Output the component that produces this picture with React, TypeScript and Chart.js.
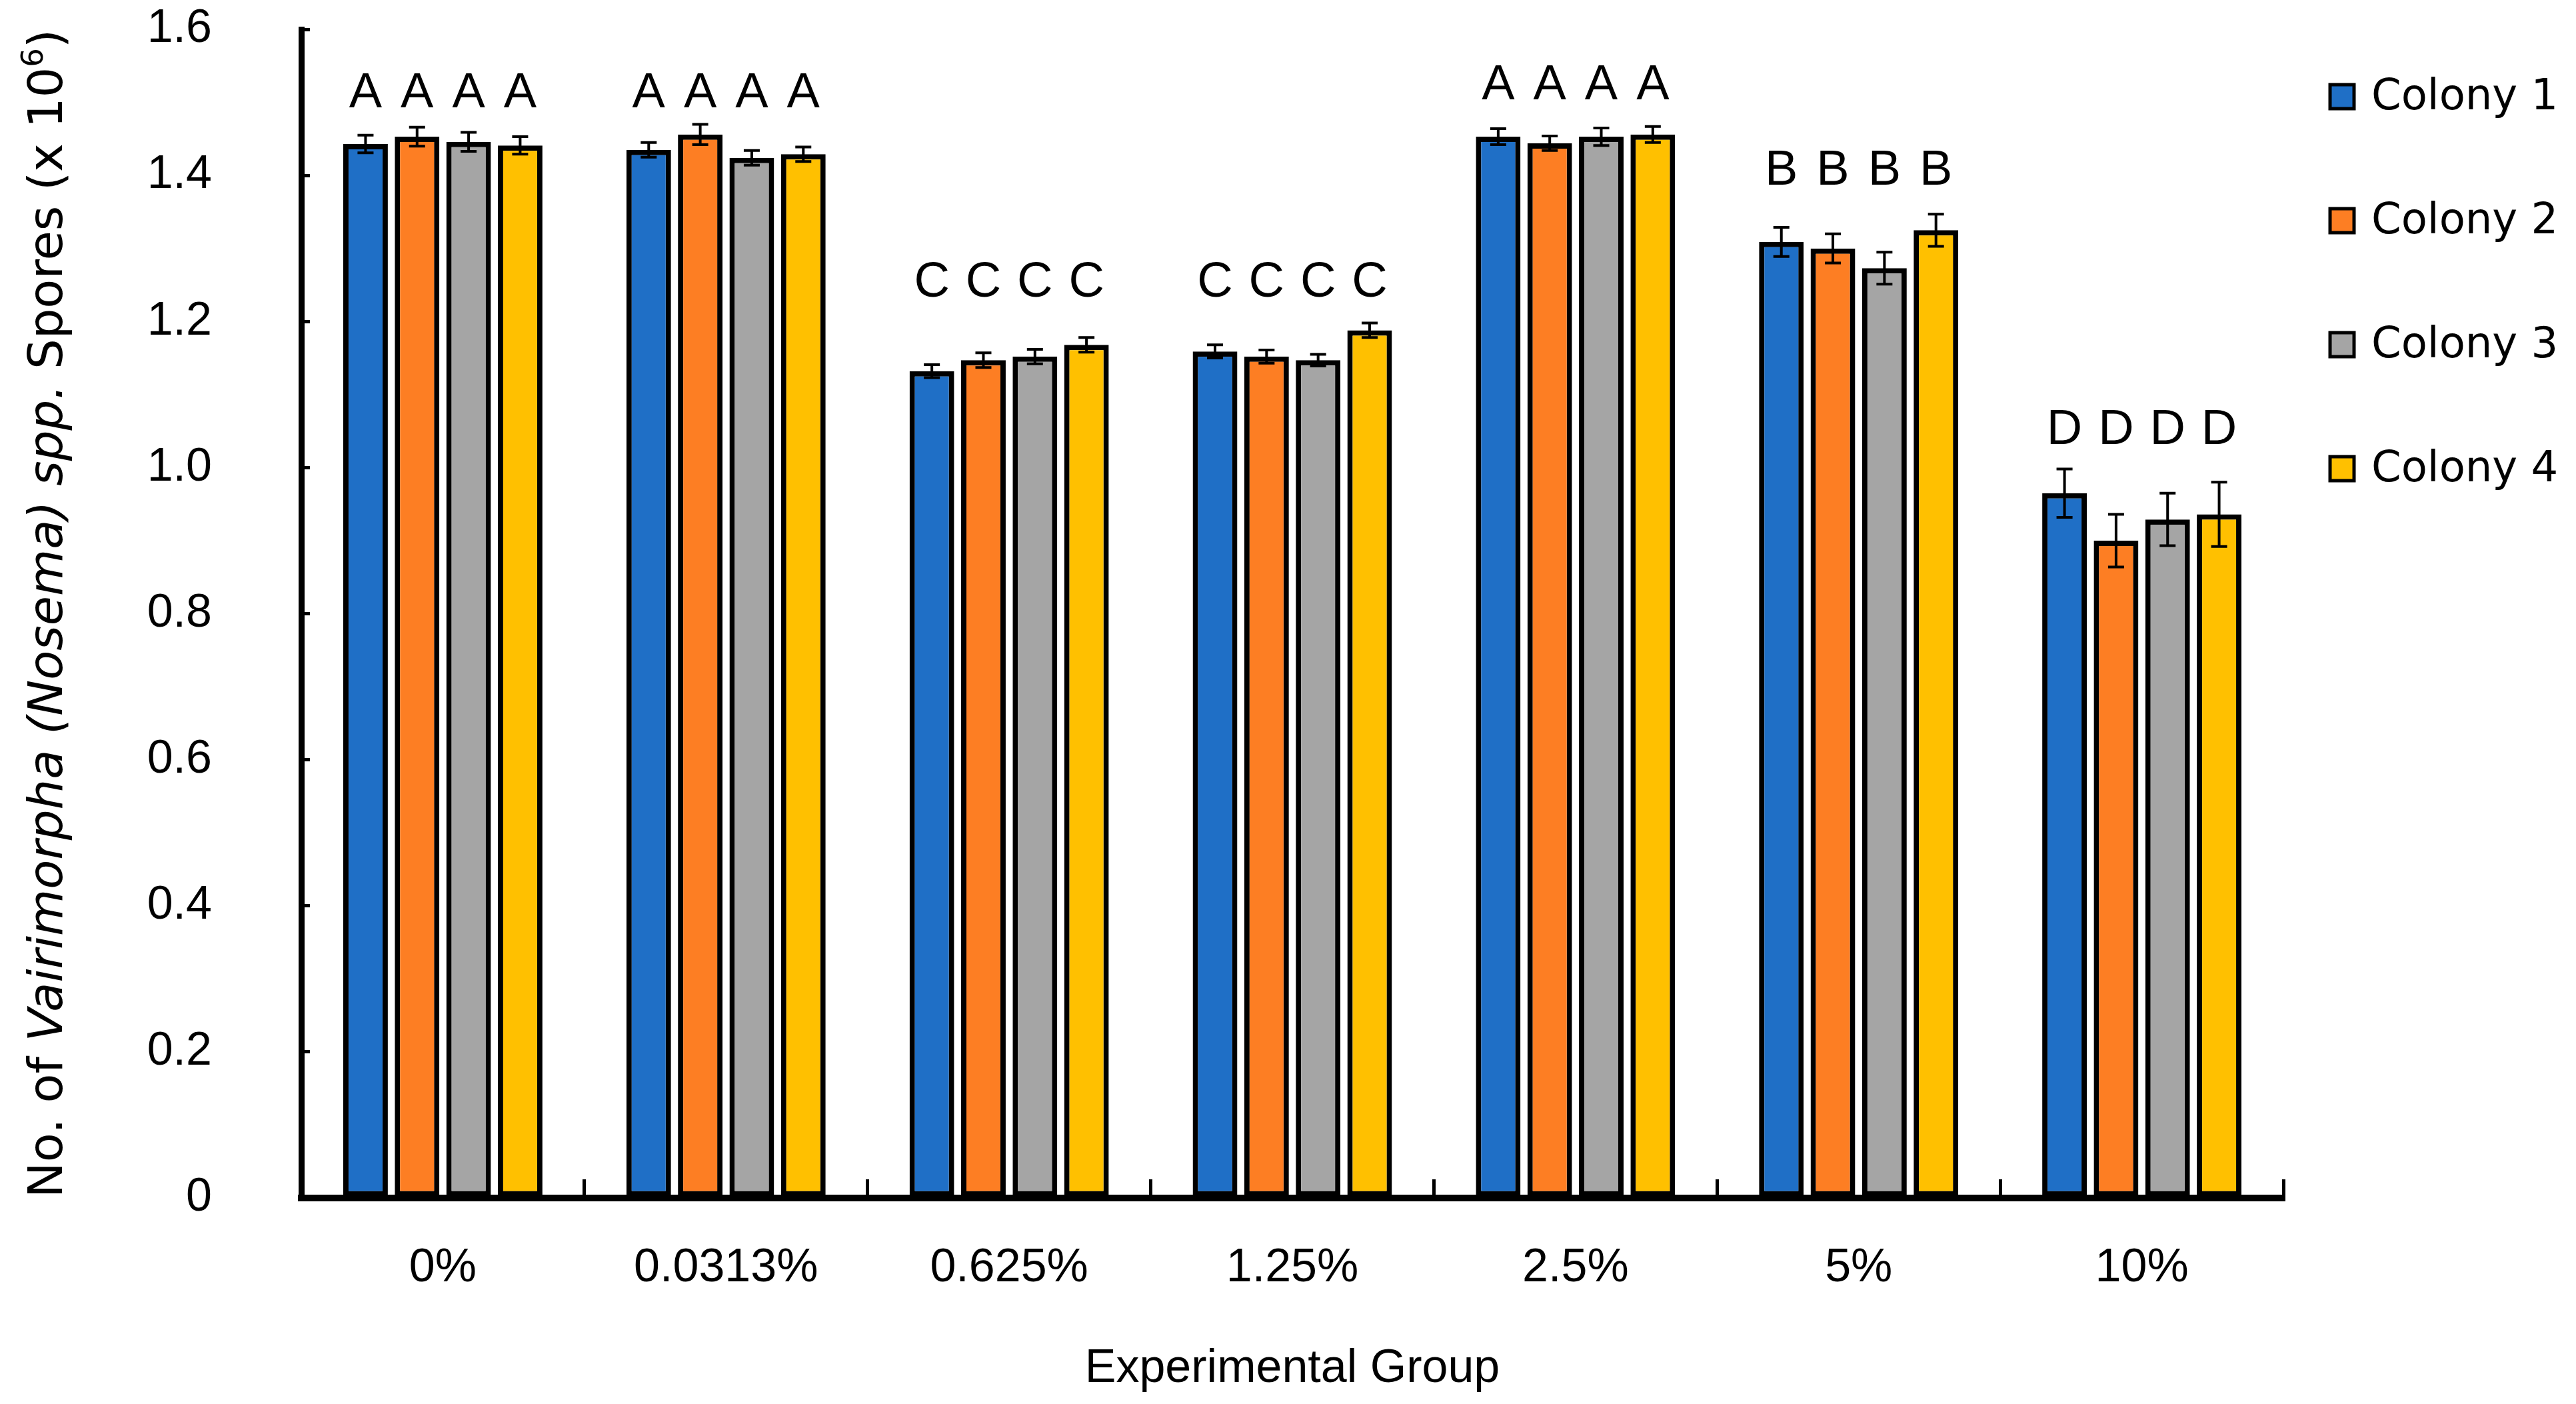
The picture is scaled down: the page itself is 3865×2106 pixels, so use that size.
import React, { useEffect, useRef } from 'react';
import { Chart, registerables } from 'chart.js';

Chart.register(...registerables);

// ---------- data ----------
const groups = ['0%', '0.0313%', '0.625%', '1.25%', '2.5%', '5%', '10%'];
const seriesNames = ['Colony 1', 'Colony 2', 'Colony 3', 'Colony 4'];
const seriesColors = ['#1f6fc6', '#fd7e23', '#a5a5a5', '#ffc000'];

const colony1 = [1.443, 1.435, 1.132, 1.159, 1.453, 1.309, 0.965];
const colony2 = [1.453, 1.456, 1.147, 1.152, 1.444, 1.300, 0.900];
const colony3 = [1.446, 1.424, 1.152, 1.147, 1.453, 1.273, 0.929];
const colony4 = [1.441, 1.429, 1.168, 1.188, 1.456, 1.325, 0.936];

const err1 = [0.012, 0.010, 0.009, 0.009, 0.011, 0.020, 0.033];
const err2 = [0.013, 0.014, 0.010, 0.009, 0.010, 0.020, 0.036];
const err3 = [0.013, 0.010, 0.010, 0.008, 0.012, 0.022, 0.036];
const err4 = [0.012, 0.010, 0.010, 0.010, 0.011, 0.022, 0.044];

const letters = ['A', 'A', 'C', 'C', 'A', 'B', 'D'];
const letterLevels = [1.512, 1.512, 1.253, 1.253, 1.523, 1.406, 1.051];

const yTickLabels = ['0', '0.2', '0.4', '0.6', '0.8', '1.0', '1.2', '1.4', '1.6'];

const xTitle = 'Experimental Group';
const yTitleParts = [
  { text: 'No. of ', italic: false, sup: false },
  { text: 'Vairimorpha', italic: true, sup: false },
  { text: ' ', italic: false, sup: false },
  { text: '(Nosema)', italic: true, sup: false },
  { text: ' ', italic: false, sup: false },
  { text: 'spp.', italic: true, sup: false },
  { text: ' Spores (x 10', italic: false, sup: false },
  { text: '6', italic: false, sup: true },
  { text: ')', italic: false, sup: false },
];

const seriesValues = [colony1, colony2, colony3, colony4];
const seriesErrors = [err1, err2, err3, err4];

const TICK_FONT = '"Liberation Sans", Arial, sans-serif';
const WIDE_FONT = '"DejaVu Sans", Verdana, sans-serif';

// ---------- plugins ----------
const errorBarPlugin = {
  id: 'errorBars',
  afterDatasetsDraw(chart: any) {
    const ctx = chart.ctx;
    const y = chart.scales.y;
    ctx.save();
    ctx.strokeStyle = '#000';
    ctx.lineWidth = 4;
    seriesValues.forEach((vals, j) => {
      const meta = chart.getDatasetMeta(j);
      vals.forEach((v, i) => {
        const bar = meta.data[i];
        const e = seriesErrors[j][i];
        const x = bar.x;
        const yt = y.getPixelForValue(v + e);
        const yb = y.getPixelForValue(v - e);
        const cap = 12;
        ctx.beginPath();
        ctx.moveTo(x, yt);
        ctx.lineTo(x, yb);
        ctx.moveTo(x - cap, yt);
        ctx.lineTo(x + cap, yt);
        ctx.moveTo(x - cap, yb);
        ctx.lineTo(x + cap, yb);
        ctx.stroke();
      });
    });
    ctx.restore();
  },
};

const letterPlugin = {
  id: 'groupLetters',
  afterDatasetsDraw(chart: any) {
    const ctx = chart.ctx;
    const y = chart.scales.y;
    ctx.save();
    ctx.fillStyle = '#000';
    ctx.font = `74px ${TICK_FONT}`;
    ctx.textAlign = 'center';
    ctx.textBaseline = 'middle';
    letters.forEach((letter, i) => {
      const yy = y.getPixelForValue(letterLevels[i]);
      seriesValues.forEach((_, j) => {
        const bar = chart.getDatasetMeta(j).data[i];
        ctx.fillText(letter, bar.x, yy);
      });
    });
    ctx.restore();
  },
};

const yTitlePlugin = {
  id: 'yTitleRich',
  afterDraw(chart: any) {
    const ctx = chart.ctx;
    const area = chart.chartArea;
    const size = 72;
    const fontFor = (p: any) =>
      `${p.italic ? 'italic ' : ''}${p.sup ? Math.round(size * 0.62) : size}px ${WIDE_FONT}`;
    ctx.save();
    let total = 0;
    yTitleParts.forEach((p) => {
      ctx.font = fontFor(p);
      total += ctx.measureText(p.text).width;
    });
    ctx.translate(74, (area.top + area.bottom) / 2);
    ctx.rotate(-Math.PI / 2);
    ctx.fillStyle = '#000';
    ctx.textBaseline = 'middle';
    ctx.textAlign = 'left';
    let x = -total / 2;
    yTitleParts.forEach((p) => {
      ctx.font = fontFor(p);
      ctx.fillText(p.text, x, p.sup ? -size * 0.3 : 0);
      x += ctx.measureText(p.text).width;
    });
    ctx.restore();
  },
};

const legendPlugin = {
  id: 'sideLegend',
  afterDraw(chart: any) {
    const ctx = chart.ctx;
    const area = chart.chartArea;
    const boxX = area.right + 70;
    const box = 36;
    const top = 145;
    const step = 186;
    ctx.save();
    ctx.font = `64px ${WIDE_FONT}`;
    ctx.textBaseline = 'middle';
    ctx.textAlign = 'left';
    seriesNames.forEach((name, i) => {
      const cy = top + i * step;
      ctx.fillStyle = seriesColors[i];
      ctx.fillRect(boxX, cy - box / 2, box, box);
      ctx.lineWidth = 5;
      ctx.strokeStyle = '#000';
      ctx.strokeRect(boxX, cy - box / 2, box, box);
      ctx.fillStyle = '#000';
      ctx.fillText(name, boxX + box + 26, cy + 2);
    });
    ctx.restore();
  },
};

export default function App() {
  const canvasRef = useRef<HTMLCanvasElement | null>(null);

  useEffect(() => {
    document.body.style.margin = '0';
    const canvas = canvasRef.current;
    if (!canvas) return;
    const chart = new Chart(canvas, {
      type: 'bar',
      data: {
        labels: groups,
        datasets: seriesNames.map((name, j) => ({
          label: name,
          data: seriesValues[j],
          backgroundColor: seriesColors[j],
          borderColor: '#000',
          borderWidth: 8,
          borderSkipped: false,
          categoryPercentage: 0.728,
          barPercentage: 0.866,
        })),
      },
      options: {
        responsive: false,
        animation: false,
        devicePixelRatio: 1,
        layout: { padding: { top: 44, right: 439, left: 0, bottom: 0 } },
        plugins: {
          legend: { display: false },
          tooltip: { enabled: false },
          title: { display: false },
        },
        scales: {
          x: {
            offset: true,
            grid: {
              display: true,
              offset: true,
              drawOnChartArea: false,
              drawTicks: true,
              tickLength: -28,
              lineWidth: 5,
              color: '#000',
            },
            border: { display: true, color: '#000', width: 10 },
            ticks: {
              color: '#000',
              font: { family: TICK_FONT, size: 70 },
              padding: 92,
              maxRotation: 0,
              autoSkip: false,
            },
            title: {
              display: true,
              text: xTitle,
              color: '#000',
              font: { family: TICK_FONT, size: 70 },
              padding: { top: 0, bottom: 10 },
            },
            afterFit: (scale: any) => {
              scale.height = 309;
              scale.paddingLeft = 0;
              scale.paddingRight = 0;
            },
          },
          y: {
            min: 0,
            max: 1.6,
            grid: {
              display: true,
              drawOnChartArea: false,
              drawTicks: true,
              tickLength: -13,
              lineWidth: 5,
              color: '#000',
            },
            border: { display: true, color: '#000', width: 9 },
            ticks: {
              stepSize: 0.2,
              color: '#000',
              font: { family: TICK_FONT, size: 70 },
              padding: 147,
              callback: (_v: any, idx: number) => yTickLabels[idx],
            },
            title: { display: false, text: yTitleParts.map((p) => p.text).join('') },
            afterFit: (scale: any) => {
              scale.width = 452;
              scale.paddingTop = 0;
              scale.paddingBottom = 0;
            },
          },
        },
      },
      plugins: [errorBarPlugin, letterPlugin, yTitlePlugin, legendPlugin],
    });
    return () => chart.destroy();
  }, []);

  return (
    <div style={{ position: 'fixed', left: 0, top: 0, width: 3865, height: 2106, background: '#fff' }}>
      <canvas ref={canvasRef} width={3865} height={2106} style={{ width: 3865, height: 2106 }} />
    </div>
  );
}
